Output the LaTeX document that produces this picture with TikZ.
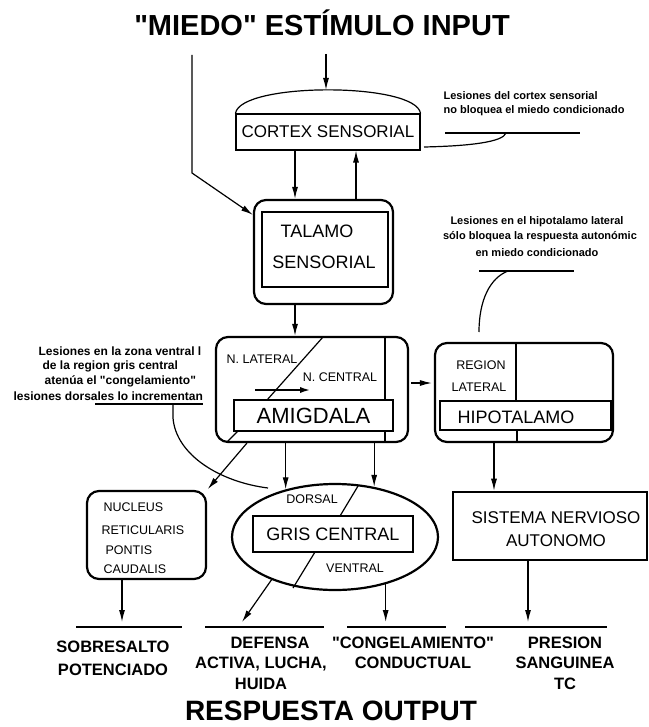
\documentclass[tikz,border=0pt]{standalone}
\usepackage{fontspec}
\setmainfont{Liberation Sans}
\usetikzlibrary{shapes.geometric,arrows.meta,calc}

\begin{document}
\begin{tikzpicture}[x=1pt,y=-1pt,line width=1.2pt,
        >={Latex[length=12pt,width=6pt]},
        caja/.style={draw,rounded corners=12pt,line width=2.2pt,inner sep=0pt},
        marco/.style={draw,line width=1.1pt,inner sep=0pt},
        rotulo/.style={inner sep=0pt,font=\fontsize{18}{20}\selectfont},
        chico/.style={inner sep=0pt,font=\fontsize{12.5}{15}\selectfont},
        nota/.style={inner sep=0pt,anchor=west,font=\bfseries\fontsize{11}{13}\selectfont},
        salida/.style={inner sep=0pt,anchor=north,align=center,font=\bfseries\fontsize{16.5}{20.5}\selectfont},
        titulo/.style={inner sep=0pt,font=\bfseries\fontsize{29}{32}\selectfont}]
            \useasboundingbox (0,0) rectangle (648,727);
            \node[titulo] (miedo) at (322,23) {\textquotedbl MIEDO\textquotedbl\ ESTÍMULO INPUT};
            \node[titulo,font=\bfseries\fontsize{28}{30}\selectfont] (respuesta) at (331,711) {RESPUESTA OUTPUT};

            % corteza y talamo
            \node[marco,minimum width=184pt,minimum height=36pt,font=\fontsize{17}{20}\selectfont] (cortex) at (328,132) {CORTEX SENSORIAL};
            \draw (cortex.north west) .. controls (240,82) and (416,82) .. (cortex.north east);
            \coordinate (cupula) at (326,90);
            \coordinate (entrada) at (326,54);
            \coordinate (entrada2) at (192,55);
            \coordinate (codo) at (192,173);
            \draw[->] (entrada) to (cupula);
            \node[caja,minimum width=139pt,minimum height=104pt] (talamo) at (323.5,252) {};
            \node[marco,minimum width=126pt,minimum height=75pt] (talamo0) at (325,249.5) {};
            \node[rotulo] (talamo1) at (317,231) {TALAMO};
            \node[rotulo] (talamo2) at (324,262) {SENSORIAL};
            \draw[->] (entrada2) to (codo) to ($(talamo.north west)+(0,16)$);
            \coordinate (xbaja) at (295,0);
            \coordinate (xsube) at (356,0);
            \draw[->] (cortex.south -| xbaja) to (talamo.north -| xbaja);
            \draw[->] (talamo.north -| xsube) to (cortex.south -| xsube);

            % amigdala
            \node[caja,minimum width=192pt,minimum height=105pt] (amigdala) at (312,389.5) {};
            \node[marco,minimum width=159pt,minimum height=31pt,font=\fontsize{22}{24}\selectfont] (amigdala2) at (313.5,415.5) {AMIGDALA};
            \draw (323,337) to (267,400);
            \draw (238,431) to (227,442);
            \draw (385,337) to (385,400);
            \draw (385,431) to (385,442);
            \node[chico] (lateral) at (262,359) {N. LATERAL};
            \node[chico] (central) at (340,377) {N. CENTRAL};
            \draw[->,line width=2.5pt] (255,390) to (312,390);
            \draw[->] (talamo.south -| xbaja) to (amigdala.north -| xbaja);

            % hipotalamo
            \node[caja,minimum width=178pt,minimum height=99pt] (hipot) at (524,392.5) {};
            \node[marco,minimum width=171pt,minimum height=29pt] (hipot2) at (525.5,415.5) {};
            \node[rotulo] (hipot3) at (516,417) {HIPOTALAMO};
            \draw (516,343) to (516,401);
            \draw (517,430) to (517,442);
            \node[chico] (region) at (481,365) {REGION};
            \node[chico] (lateral2) at (479,387) {LATERAL};
            \coordinate (ymedia) at (0,383);
            \draw[->,shorten <=2pt,shorten >=2pt] (amigdala.east |- ymedia) to (hipot.west |- ymedia);

            % gris central
            \node[draw,ellipse,line width=2.2pt,minimum width=206pt,minimum height=106pt,inner sep=0pt] (gris) at (335,537) {};
            \node[marco,rotulo,minimum width=160pt,minimum height=36pt] (gris2) at (333,534) {GRIS CENTRAL};
            \draw (358,486) to (340,516);
            \draw (315,552) to (293,588);
            \node[chico] (dorsal) at (312,499) {DORSAL};
            \node[chico] (ventral) at (355,568) {VENTRAL};
            \draw[->] (amigdala.south -| gris.136) to (gris.136);
            \draw[->] (amigdala.south -| gris.52) to (gris.52);

            % nucleus
            \node[caja,minimum width=119pt,minimum height=88pt] (nucleus) at (146.5,535) {};
            \node[chico,anchor=west] (nuc1) at (103,507) {NUCLEUS};
            \node[chico,anchor=west] (nuc2) at (101,530) {RETICULARIS};
            \node[chico,anchor=west] (nuc3) at (105,550) {PONTIS};
            \node[chico,anchor=west] (nuc4) at (103,569) {CAUDALIS};
            \draw[->,shorten >=1pt] ($(amigdala.south west)+(32,0)$) to (nucleus.north east);

            % sistema
            \node[draw,line width=2.6pt,inner sep=0pt,minimum width=194pt,minimum height=68pt] (sistema) at (550,526) {};
            \node[inner sep=0pt,align=center,font=\fontsize{17}{23}\selectfont] (sistema2) at (556,529.5) {SISTEMA NERVIOSO\\AUTONOMO};
            \coordinate (xhs) at (494,0);
            \draw[->] (hipot.south -| xhs) to (sistema.north -| xhs);

            % notas
            \node[nota] (nota1) at (443,96) {Lesiones del cortex sensorial};
            \node[nota] (nota2) at (443,111) {no bloquea el miedo condicionado};
            \draw (445,133) to (580,133);
            \draw (506,133) .. controls (503,142) and (470,146) .. (424,147);
            \node[nota,anchor=center] (nota3) at (537,222) {Lesiones en el hipotalamo lateral};
            \node[nota,anchor=center] (nota4) at (540,237) {sólo bloquea la respuesta autonómic};
            \node[nota,anchor=center] (nota5) at (537,253) {en miedo condicionado};
            \draw (479,271) to (574,271);
            \draw (508,271) .. controls (490,278) and (479,300) .. (479,332);
            \node[nota,font=\bfseries\fontsize{12}{14}\selectfont] (nota6) at (38,351) {Lesiones en la zona ventral l};
            \node[nota,font=\bfseries\fontsize{12}{14}\selectfont] (nota7) at (42,366) {de la region gris central};
            \node[nota,font=\bfseries\fontsize{12}{14}\selectfont] (nota8) at (44,381) {atenúa el \textquotedbl congelamiento\textquotedbl};
            \node[nota,font=\bfseries\fontsize{12}{14}\selectfont] (nota9) at (13,396) {lesiones dorsales lo incrementan};
            \draw (95,404) to (203,404);
            \draw (173,404) to (173,418) .. controls (176,455) and (220,482) .. (268,488);

            % salidas
            \draw (76,627) to (182,627);
            \draw (205,627) to (324,627);
            \draw (347,627) to (446,627);
            \draw (465,627) to (607,627);
            \coordinate (psob) at (122,622);
            \coordinate (pdef) at (242,622);
            \coordinate (pcon) at (385,622);
            \coordinate (ppre) at (528,622);
            \draw[->] (nucleus.south -| psob) to (psob);
            \draw[->] (gris.214) to (pdef);
            \draw[->] (gris.317) to (gris.317 |- pcon);
            \draw[->] (sistema.south -| ppre) to (ppre);
            \node[salida,font=\bfseries\fontsize{16.5}{23}\selectfont] (sobresalto) at (113,640) {SOBRESALTO\\POTENCIADO};
            \node[salida] (defensa) at (261,636) {\hspace*{18pt}DEFENSA\\ACTIVA, LUCHA,\\HUIDA};
            \node[salida] (congela) at (413,636) {\textquotedbl CONGELAMIENTO\textquotedbl\\CONDUCTUAL};
            \node[salida] (presion) at (565,636) {PRESION\\SANGUINEA\\TC};
        \end{tikzpicture}
\end{document}
